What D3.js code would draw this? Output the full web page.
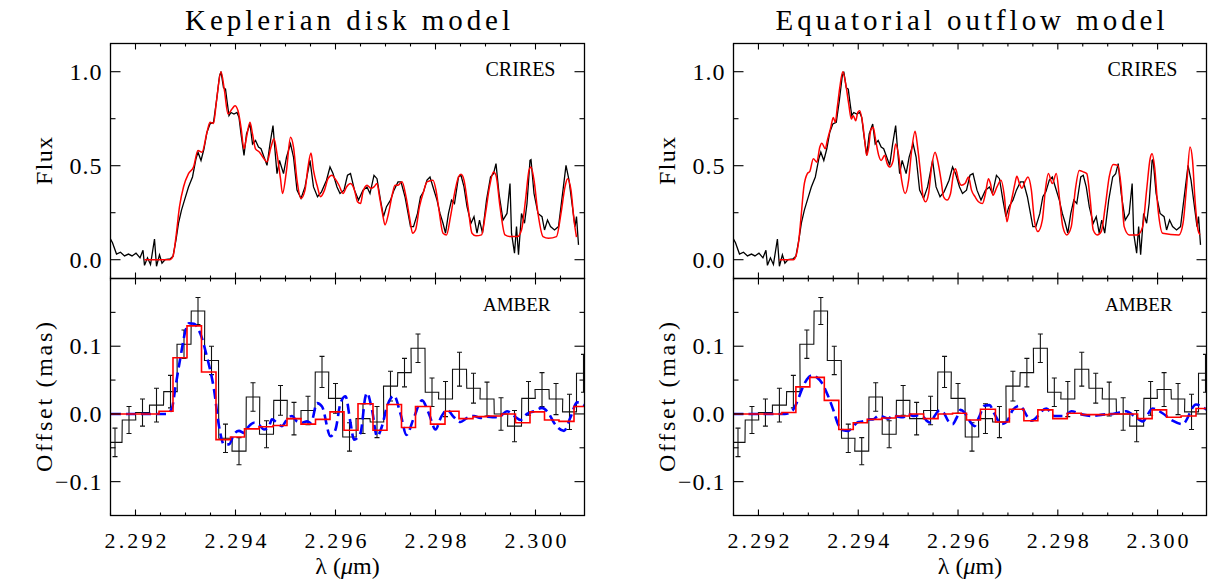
<!DOCTYPE html>
<html>
<head>
<meta charset="utf-8">
<script src="https://cdn.jsdelivr.net/npm/d3@7"></script>
<style>
body { margin: 0; background: #fff; }
text { font-family: "Liberation Serif", "DejaVu Serif", serif; fill: #000; }
</style>
</head>
<body>
<svg id="chart" width="1208" height="582"></svg>
<script>
// ---- data (wavelength in micron) ----
// CRIRES observed spectrum [lambda, normalised flux] (same in both columns)
var crires = [
  [2.29150,0.11],[2.29154,0.09],[2.29162,0.03],[2.29170,0.04],[2.29178,0.02],[2.29186,0.03],[2.29193,0.02],[2.29201,0.035],[2.29209,0.01],[2.29215,0.05],
  [2.29218,-0.03],[2.29224,0.01],[2.29230,-0.026],[2.29238,0.11],[2.29242,-0.035],[2.29248,0.026],[2.29253,-0.018],[2.29259,0.0],[2.29269,0.004],[2.29275,0.018],
  [2.29281,0.106],[2.29286,0.194],[2.29292,0.264],[2.29298,0.317],[2.29306,0.387],[2.29314,0.44],[2.29321,0.537],[2.29325,0.572],[2.29331,0.528],[2.29337,0.59],
  [2.29343,0.678],[2.29349,0.722],[2.29356,0.731],[2.29362,0.845],[2.29368,0.977],[2.29371,1.0],[2.29376,0.915],[2.29380,0.907],[2.29383,0.845],[2.29387,0.766],
  [2.29391,0.783],[2.29397,0.775],[2.29403,0.783],[2.29407,0.757],[2.29411,0.669],[2.29417,0.555],[2.29422,0.669],[2.29429,0.722],[2.29434,0.616],[2.29440,0.634],
  [2.29446,0.599],[2.29451,0.59],[2.29457,0.546],[2.29463,0.502],[2.29469,0.616],[2.29475,0.713],[2.29479,0.581],[2.29483,0.458],[2.29488,0.528],[2.29496,0.458],
  [2.29502,0.546],[2.29510,0.616],[2.29516,0.546],[2.29523,0.37],[2.29531,0.326],[2.29539,0.387],[2.29549,0.528],[2.29556,0.387],[2.29564,0.335],[2.29572,0.361],
  [2.29582,0.423],[2.29589,0.493],[2.29595,0.458],[2.29603,0.387],[2.29609,0.352],[2.29617,0.37],[2.29624,0.449],[2.29630,0.458],[2.29638,0.37],[2.29646,0.317],
  [2.29655,0.37],[2.29663,0.387],[2.29669,0.352],[2.29677,0.449],[2.29683,0.431],[2.29690,0.317],[2.29696,0.229],[2.29702,0.282],[2.29710,0.317],[2.29717,0.37],
  [2.29725,0.414],[2.29731,0.414],[2.29739,0.335],[2.29750,0.176],[2.29756,0.176],[2.29764,0.246],[2.29770,0.335],[2.29776,0.361],[2.29783,0.423],[2.29789,0.44],
  [2.29795,0.387],[2.29803,0.317],[2.29809,0.246],[2.29815,0.194],[2.29820,0.141],[2.29826,0.246],[2.29832,0.317],[2.29838,0.299],[2.29846,0.44],[2.29851,0.449],
  [2.29857,0.387],[2.29863,0.282],[2.29871,0.194],[2.29877,0.229],[2.29883,0.141],[2.29888,0.211],[2.29894,0.141],[2.29902,0.317],[2.29910,0.44],[2.29916,0.458],
  [2.29921,0.511],[2.29927,0.352],[2.29935,0.211],[2.29943,0.246],[2.29949,0.405],[2.29952,0.141],[2.29958,0.035],[2.29962,0.176],[2.29966,0.026],[2.29972,0.246],
  [2.29978,0.194],[2.29983,0.299],[2.29989,0.528],[2.29991,0.532],[2.29997,0.352],[2.30005,0.246],[2.30013,0.229],[2.30018,0.158],[2.30024,0.211],[2.30030,0.176],
  [2.30038,0.158],[2.30046,0.176],[2.30055,0.37],[2.30061,0.502],[2.30067,0.423],[2.30073,0.299],[2.30079,0.176],[2.30082,0.229],[2.30086,0.079]
];

// Keplerian disk model spectrum
var kepModel = [
  [2.29218,0],[2.29269,0],[2.29275,0.018],[2.29281,0.123],[2.29288,0.282],[2.29296,0.387],[2.29306,0.458],[2.29316,0.493],[2.29325,0.581],[2.29333,0.572],
  [2.29343,0.678],[2.29349,0.731],[2.29356,0.725],[2.29362,0.845],[2.29371,1.0],[2.29378,0.898],[2.29385,0.775],[2.29393,0.801],[2.29399,0.819],[2.29405,0.792],
  [2.29411,0.704],[2.29417,0.59],[2.29422,0.651],[2.29429,0.731],[2.29434,0.669],[2.29440,0.59],[2.29448,0.572],[2.29457,0.537],[2.29463,0.52],[2.29471,0.599],
  [2.29477,0.643],[2.29483,0.563],[2.29490,0.431],[2.29494,0.352],[2.29502,0.475],[2.29510,0.651],[2.29516,0.599],[2.29523,0.423],[2.29531,0.326],[2.29539,0.37],
  [2.29545,0.493],[2.29551,0.567],[2.29556,0.475],[2.29564,0.387],[2.29570,0.335],[2.29578,0.37],[2.29585,0.431],[2.29593,0.449],[2.29599,0.431],[2.29607,0.396],
  [2.29615,0.352],[2.29622,0.387],[2.29630,0.405],[2.29638,0.37],[2.29644,0.308],[2.29650,0.299],[2.29655,0.361],[2.29663,0.396],[2.29671,0.379],[2.29677,0.387],
  [2.29683,0.405],[2.29688,0.335],[2.29694,0.246],[2.29699,0.185],[2.29706,0.246],[2.29714,0.352],[2.29719,0.396],[2.29725,0.396],[2.29733,0.414],[2.29741,0.335],
  [2.29749,0.211],[2.29754,0.141],[2.29760,0.158],[2.29768,0.282],[2.29776,0.361],[2.29783,0.414],[2.29795,0.423],[2.29801,0.37],[2.29807,0.264],[2.29815,0.141],
  [2.29822,0.132],[2.29830,0.229],[2.29838,0.352],[2.29846,0.44],[2.29851,0.454],[2.29857,0.423],[2.29865,0.282],[2.29873,0.141],[2.29881,0.127],[2.29892,0.132],
  [2.29900,0.246],[2.29908,0.387],[2.29916,0.467],[2.29921,0.449],[2.29929,0.282],[2.29939,0.132],[2.29949,0.123],[2.29964,0.123],[2.29972,0.158],[2.29980,0.317],
  [2.29987,0.475],[2.29991,0.493],[2.29997,0.423],[2.30005,0.246],[2.30015,0.123],[2.30026,0.114],[2.30042,0.123],[2.30051,0.246],[2.30059,0.387],[2.30064,0.431],
  [2.30071,0.37],[2.30077,0.211],[2.30082,0.12]
];

// Equatorial outflow model spectrum
var outModel = [
  [2.29242,0],[2.29270,0],[2.29275,0.018],[2.29281,0.106],[2.29286,0.246],[2.29291,0.387],[2.29298,0.458],[2.29303,0.47],[2.29310,0.537],[2.29317,0.519],
  [2.29323,0.599],[2.29327,0.62],[2.29334,0.59],[2.29338,0.634],[2.29345,0.704],[2.29350,0.757],[2.29354,0.731],[2.29358,0.81],[2.29363,0.915],[2.29369,1.0],
  [2.29375,0.933],[2.29381,0.827],[2.29386,0.748],[2.29390,0.766],[2.29395,0.739],[2.29399,0.783],[2.29403,0.792],[2.29409,0.722],[2.29413,0.634],[2.29417,0.555],
  [2.29421,0.599],[2.29425,0.687],[2.29430,0.704],[2.29435,0.634],[2.29441,0.555],[2.29446,0.528],[2.29453,0.555],[2.29458,0.511],[2.29463,0.493],[2.29470,0.528],
  [2.29475,0.616],[2.29481,0.555],[2.29487,0.423],[2.29494,0.352],[2.29501,0.423],[2.29507,0.581],[2.29514,0.683],[2.29519,0.599],[2.29525,0.458],[2.29530,0.335],
  [2.29535,0.308],[2.29541,0.352],[2.29547,0.493],[2.29554,0.572],[2.29559,0.528],[2.29566,0.423],[2.29571,0.335],[2.29578,0.317],[2.29585,0.352],[2.29591,0.458],
  [2.29595,0.484],[2.29601,0.423],[2.29607,0.396],[2.29614,0.405],[2.29621,0.44],[2.29627,0.37],[2.29634,0.335],[2.29641,0.308],[2.29649,0.299],[2.29655,0.352],
  [2.29661,0.431],[2.29665,0.405],[2.29670,0.343],[2.29678,0.387],[2.29686,0.423],[2.29693,0.335],[2.29698,0.202],[2.29703,0.264],[2.29710,0.352],[2.29714,0.405],
  [2.29718,0.444],[2.29723,0.405],[2.29728,0.38],[2.29735,0.42],[2.29740,0.44],[2.29747,0.37],[2.29753,0.211],[2.29760,0.15],[2.29769,0.211],[2.29775,0.37],
  [2.29781,0.458],[2.29789,0.405],[2.29797,0.458],[2.29803,0.335],[2.29810,0.176],[2.29818,0.132],[2.29827,0.176],[2.29835,0.37],[2.29843,0.475],[2.29851,0.467],
  [2.29858,0.458],[2.29865,0.317],[2.29871,0.158],[2.29879,0.132],[2.29887,0.15],[2.29895,0.282],[2.29903,0.44],[2.29911,0.507],[2.29920,0.502],[2.29927,0.387],
  [2.29933,0.176],[2.29943,0.132],[2.29960,0.132],[2.29970,0.176],[2.29978,0.37],[2.29985,0.537],[2.29989,0.563],[2.29994,0.493],[2.30001,0.264],[2.30010,0.141],
  [2.30043,0.132],[2.30051,0.194],[2.30058,0.387],[2.30065,0.599],[2.30070,0.528],[2.30075,0.317],[2.30081,0.158],[2.30085,0.132]
];

// AMBER photocentre offset (mas): bin centres, values, 1-sigma errors
var amberLam = [2.29159, 2.29187, 2.29214, 2.29242, 2.29270, 2.29297, 2.29325, 2.29352, 2.29380, 2.29407,
                2.29435, 2.29462, 2.29490, 2.29517, 2.29545, 2.29573, 2.29600, 2.29628, 2.29655, 2.29683,
                2.29710, 2.29738, 2.29765, 2.29793, 2.29820, 2.29848, 2.29876, 2.29903, 2.29931, 2.29958,
                2.29986, 2.30013, 2.30041, 2.30068, 2.30096];
var amberOff = [-0.042, -0.009, 0.002, 0.013, 0.033, 0.103, 0.152, 0.079, -0.036, -0.055,
                0.025, -0.030, 0.020, -0.007, 0.005, 0.062, 0.023, -0.034, -0.007, -0.012,
                0.041, 0.061, 0.097, 0.032, 0.022, 0.066, 0.038, 0.022, 0.000, -0.018,
                0.023, 0.036, 0.022, 0.003, 0.060];
var amberErr = [0.021, 0.020, 0.020, 0.025, 0.024, 0.021, 0.020, 0.021, 0.021, 0.020,
                0.021, 0.020, 0.022, 0.024, 0.021, 0.023, 0.022, 0.021, 0.022, 0.023,
                0.022, 0.021, 0.021, 0.021, 0.026, 0.025, 0.022, 0.025, 0.024, 0.023,
                0.025, 0.025, 0.023, 0.026, 0.028];

// binned model offsets (red steps): bin edges and level in each interval
var stepEdges = [2.29247, 2.29275, 2.29303, 2.29332, 2.29361, 2.29390, 2.29418, 2.29447, 2.29475, 2.29503,
                 2.29531, 2.29560, 2.29589, 2.29617, 2.29645, 2.29675, 2.29703, 2.29732, 2.29760, 2.29790,
                 2.29819, 2.29847, 2.29875, 2.29903, 2.29932, 2.29960, 2.29989, 2.30018, 2.30047, 2.30077];
var kepStep = [0.000, 0.004, 0.083, 0.130, 0.062, -0.038, -0.034, -0.022, -0.019, -0.017,
               -0.007, -0.015, -0.008, 0.003, -0.024, 0.015, -0.024, 0.014, -0.020, 0.011,
               -0.015, 0.004, -0.007, -0.004, -0.003, 0.000, -0.013, 0.003, -0.009, -0.011, 0.011];
var outStep = [0.000, 0.002, 0.040, 0.054, 0.020, -0.023, -0.013, -0.008, -0.006, -0.003,
               0.000, -0.007, 0.000, 0.001, -0.009, 0.007, -0.012, 0.007, -0.010, 0.006,
               -0.007, 0.001, -0.001, -0.001, 0.000, 0.000, -0.007, 0.006, -0.005, -0.003, 0.008];

// unbinned model offsets (blue dashed)
var kepBlue = [
  [2.29151,0],[2.29263,0],[2.29273,0.009],[2.29280,0.040],[2.29290,0.084],[2.29300,0.123],[2.29307,0.134],[2.29317,0.133],[2.29330,0.118],[2.29343,0.084],
  [2.29357,0.036],[2.29367,-0.018],[2.29377,-0.045],[2.29387,-0.045],[2.29397,-0.030],[2.29407,-0.025],[2.29417,-0.028],[2.29427,-0.018],[2.29437,-0.013],[2.29447,-0.016],
  [2.29457,-0.023],[2.29467,-0.018],[2.29473,-0.008],[2.29483,-0.013],[2.29493,-0.018],[2.29503,-0.008],[2.29513,-0.003],[2.29523,-0.011],[2.29533,-0.013],[2.29543,-0.011],
  [2.29551,-0.013],[2.29563,0.016],[2.29573,0.011],[2.29590,-0.033],[2.29600,-0.023],[2.29610,0.016],[2.29620,0.026],[2.29630,-0.013],[2.29637,-0.038],[2.29650,-0.028],
  [2.29660,0.026],[2.29663,0.031],[2.29673,0.006],[2.29683,-0.033],[2.29693,-0.018],[2.29703,0.011],[2.29717,0.027],[2.29730,0.0],[2.29742,-0.031],[2.29757,-0.005],
  [2.29773,0.020],[2.29787,0.0],[2.29800,-0.023],[2.29811,-0.005],[2.29823,0.006],[2.29837,-0.005],[2.29850,-0.012],[2.29863,-0.006],[2.29877,-0.003],[2.29890,-0.006],
  [2.29903,-0.004],[2.29917,-0.005],[2.29930,-0.003],[2.29943,0.004],[2.29957,-0.003],[2.29970,-0.009],[2.29983,0.0],[2.29997,0.004],[2.30013,0.009],[2.30027,0.0],
  [2.30037,-0.013],[2.30057,-0.025],[2.30070,-0.005],[2.30083,0.017],[2.30099,0.012]
];
var outBlue = [
  [2.29150,0],[2.29253,0],[2.29267,0.004],[2.29277,0.017],[2.29287,0.036],[2.29297,0.051],[2.29307,0.057],[2.29317,0.054],[2.29327,0.046],[2.29337,0.031],
  [2.29350,0.006],[2.29360,-0.016],[2.29370,-0.024],[2.29380,-0.025],[2.29390,-0.018],[2.29400,-0.012],[2.29410,-0.011],[2.29420,-0.008],[2.29430,-0.008],[2.29440,-0.003],
  [2.29450,-0.004],[2.29460,-0.007],[2.29470,-0.002],[2.29480,-0.004],[2.29490,-0.005],[2.29500,0.0],[2.29510,-0.003],[2.29520,-0.002],[2.29530,-0.004],[2.29537,-0.010],
  [2.29545,-0.013],[2.29553,-0.003],[2.29563,0.005],[2.29571,0.002],[2.29580,-0.010],[2.29589,-0.015],[2.29597,-0.006],[2.29605,0.006],[2.29613,0.002],[2.29623,-0.010],
  [2.29633,-0.018],[2.29642,-0.005],[2.29653,0.012],[2.29663,0.013],[2.29673,0.0],[2.29687,-0.015],[2.29697,-0.012],[2.29710,0.006],[2.29723,0.012],[2.29747,-0.010],
  [2.29777,0.008],[2.29793,-0.003],[2.29813,-0.003],[2.29827,0.004],[2.29850,-0.001],[2.29870,-0.003],[2.29890,-0.001],[2.29910,0.0],[2.29937,0.004],[2.29953,-0.003],
  [2.29970,-0.011],[2.29990,0.008],[2.30010,0.001],[2.30030,-0.010],[2.30050,-0.015],[2.30077,0.014],[2.30090,0.010],[2.30099,0.006]
];

var titles = ["Keplerian disk model", "Equatorial outflow model"];
var xMajor = [2.292, 2.294, 2.296, 2.298, 2.300];
var fluxMajor = [0, 0.5, 1.0], fluxMinor = [0.25, 0.75];
var offMajor = [-0.1, 0, 0.1], offMinor = [-0.05, 0.05, 0.15];

// ---- layout ----
var svg = d3.select("#chart");
var lamDomain = [2.2915, 2.30098];
var topBox = [43.5, 278.5], botBox = [278.5, 515.5];
var cols = [
  {x0: 110.5, x1: 584.5, model: kepModel, step: kepStep, blue: kepBlue, titleLen: 325},
  {x0: 733.5, x1: 1206.5, model: outModel, step: outStep, blue: outBlue, titleLen: 389}
];
var fmtY = d3.format(".1f"), fmtX = d3.format(".3f");

function histPoints(lams, vals) {
  var pts = [];
  lams.forEach(function(l, i) {
    var hw = (i < lams.length - 1 ? lams[i + 1] - l : l - lams[i - 1]) / 2;
    pts.push([l - hw, vals[i]], [l + hw, vals[i]]);
  });
  return pts;
}

function stepPoints(edges, levels) {
  var pts = [[lamDomain[0], levels[0]]];
  edges.forEach(function(e, i) { pts.push([e, levels[i]], [e, levels[i + 1]]); });
  pts.push([lamDomain[1], levels[levels.length - 1]]);
  return pts;
}

function frame(x, y, box, yMaj, yMin) {
  var x0 = x.range()[0], x1 = x.range()[1];
  var g = svg.append("g").attr("stroke", "#000").attr("stroke-width", 1.1);
  x.ticks(20).forEach(function(t) {
    var major = xMajor.some(function(m) { return Math.abs(m - t) < 1e-7; });
    var L = major ? 6 : 3;
    g.append("line").attr("x1", x(t)).attr("x2", x(t)).attr("y1", box[1]).attr("y2", box[1] - L);
    g.append("line").attr("x1", x(t)).attr("x2", x(t)).attr("y1", box[0]).attr("y2", box[0] + L);
  });
  yMaj.concat(yMin).forEach(function(v, i) {
    var L = i < yMaj.length ? 10 : 5;
    g.append("line").attr("x1", x0).attr("x2", x0 + L).attr("y1", y(v)).attr("y2", y(v));
    g.append("line").attr("x1", x1).attr("x2", x1 - L).attr("y1", y(v)).attr("y2", y(v));
  });
  g.append("rect").attr("x", x0).attr("y", box[0]).attr("width", x1 - x0).attr("height", box[1] - box[0])
    .attr("fill", "none").attr("stroke-width", 1.3);
  svg.append("g").selectAll("text").data(yMaj).enter().append("text")
    .attr("x", x0 - 8).attr("y", function(d) { return y(d) + 8; })
    .attr("text-anchor", "end").style("font-size", "24px").style("letter-spacing", "1px")
    .text(function(d) { return fmtY(d); });
}

cols.forEach(function(c, ci) {
  var x = d3.scaleLinear().domain(lamDomain).range([c.x0, c.x1]);
  var yF = d3.scaleLinear().domain([-0.1, 1.15]).range([topBox[1], topBox[0]]);
  var yO = d3.scaleLinear().domain([-0.15, 0.2]).range([botBox[1], botBox[0]]);

  var defs = svg.append("defs");
  defs.append("clipPath").attr("id", "clipT" + ci).append("rect")
    .attr("x", c.x0).attr("y", topBox[0]).attr("width", c.x1 - c.x0).attr("height", topBox[1] - topBox[0]);
  defs.append("clipPath").attr("id", "clipB" + ci).append("rect")
    .attr("x", c.x0).attr("y", botBox[0]).attr("width", c.x1 - c.x0).attr("height", botBox[1] - botBox[0]);

  // top: CRIRES spectrum
  var lineF = d3.line().x(function(d) { return x(d[0]); }).y(function(d) { return yF(d[1]); });
  var gt = svg.append("g").attr("clip-path", "url(#clipT" + ci + ")");
  gt.append("path").attr("d", lineF(crires)).attr("fill", "none").attr("stroke", "#000").attr("stroke-width", 1.3);
  gt.append("path").attr("d", lineF.curve(d3.curveMonotoneX)(c.model)).attr("fill", "none").attr("stroke", "#ff0000").attr("stroke-width", 1.5);

  // bottom: AMBER offsets
  var lineO = d3.line().x(function(d) { return x(d[0]); }).y(function(d) { return yO(d[1]); });
  var gb = svg.append("g").attr("clip-path", "url(#clipB" + ci + ")");
  gb.append("path").attr("d", lineO(histPoints(amberLam, amberOff))).attr("fill", "none").attr("stroke", "#111").attr("stroke-width", 1.1);
  var eb = gb.append("g").attr("stroke", "#111").attr("stroke-width", 1.1);
  amberLam.forEach(function(l, i) {
    var lo = yO(amberOff[i] - amberErr[i]), hi = yO(amberOff[i] + amberErr[i]), px = x(l);
    eb.append("line").attr("x1", px).attr("x2", px).attr("y1", lo).attr("y2", hi);
    eb.append("line").attr("x1", px - 2.5).attr("x2", px + 2.5).attr("y1", lo).attr("y2", lo);
    eb.append("line").attr("x1", px - 2.5).attr("x2", px + 2.5).attr("y1", hi).attr("y2", hi);
  });
  gb.append("path").attr("d", d3.line().x(function(d) { return x(d[0]); }).y(function(d) { return yO(d[1]); })
      .curve(d3.curveMonotoneX)(c.blue))
    .attr("fill", "none").attr("stroke", "#0000ff").attr("stroke-width", 2.6).attr("stroke-dasharray", "10,5");
  gb.append("path").attr("d", lineO(stepPoints(stepEdges, c.step))).attr("fill", "none").attr("stroke", "#ff0000").attr("stroke-width", 1.6);

  frame(x, yF, topBox, fluxMajor, fluxMinor);
  frame(x, yO, botBox, offMajor, offMinor);

  // x tick labels under bottom panel
  svg.append("g").selectAll("text").data(xMajor).enter().append("text")
    .attr("x", function(d) { return x(d); }).attr("y", 548)
    .attr("text-anchor", "middle").style("font-size", "22px")
    .attr("textLength", 62).attr("lengthAdjust", "spacing")
    .text(function(d) { return fmtX(d); });

  // titles and labels
  var cx = (c.x0 + c.x1) / 2;
  svg.append("text").attr("x", cx).attr("y", 30).attr("text-anchor", "middle")
    .style("font-size", "29px").attr("textLength", c.titleLen).attr("lengthAdjust", "spacing").text(titles[ci]);
  svg.append("text").attr("x", c.x1 - 29).attr("y", 76).attr("text-anchor", "end").style("font-size", "20px").text("CRIRES");
  svg.append("text").attr("x", c.x1 - 34).attr("y", 311).attr("text-anchor", "end").style("font-size", "19px").text("AMBER");

  var lab = svg.append("text").attr("transform", "translate(" + (c.x0 - 59) + "," + ((topBox[0] + topBox[1]) / 2) + ") rotate(-90)")
    .attr("text-anchor", "middle").style("font-size", "24px").attr("textLength", 48).attr("lengthAdjust", "spacing").text("Flux");
  svg.append("text").attr("transform", "translate(" + (c.x0 - 59) + "," + ((botBox[0] + botBox[1]) / 2) + ") rotate(-90)")
    .attr("text-anchor", "middle").style("font-size", "24px").attr("textLength", 150).attr("lengthAdjust", "spacing").text("Offset (mas)");

  var xl = svg.append("text").attr("x", cx).attr("y", 574).attr("text-anchor", "middle").style("font-size", "24px");
  xl.append("tspan").text("\u03bb (");
  xl.append("tspan").style("font-style", "italic").text("\u03bc");
  xl.append("tspan").text("m)");
});
</script>
</body>
</html>
